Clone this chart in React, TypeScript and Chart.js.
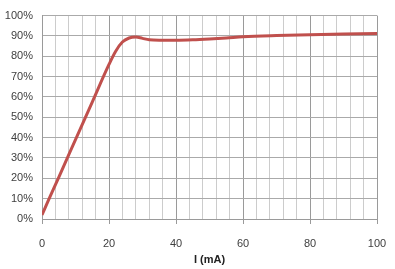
import React, { useEffect, useRef } from "react";
import { Chart, registerables } from "chart.js";

Chart.register(...registerables);

const currentMA = [0, 2, 5, 10, 15, 20, 22, 24, 26, 28, 30, 32, 35, 40, 45, 50, 55, 60, 70, 80, 90, 100];
const efficiency = [2, 9.5, 20.5, 39, 57.5, 76, 82.5, 87, 89, 89.5, 88.8, 88.1, 87.9, 87.9, 88.1, 88.5, 89, 89.6, 90.2, 90.6, 90.9, 91.2];
const xTitle = "I (mA)";

export default function App() {
  const ref = useRef<HTMLCanvasElement | null>(null);
  useEffect(() => {
    document.body.style.margin = "0";
    const ctx = ref.current!;
    const font = { family: "'Liberation Sans', Arial, sans-serif", size: 11 };
    const chart = new Chart(ctx, {
      type: "line",
      data: {
        datasets: [
          {
            data: currentMA.map((x, i) => ({ x, y: efficiency[i] })),
            borderColor: "#C0504D",
            borderWidth: 3,
            pointRadius: 0,
            cubicInterpolationMode: "monotone",
            fill: false,
          },
        ],
      },
      options: {
        animation: false,
        responsive: false,
        maintainAspectRatio: false,
        layout: { padding: { top: 12, right: 18, bottom: 0, left: 0 } },
        plugins: { legend: { display: false }, tooltip: { enabled: false } },
        scales: {
          x: {
            type: "linear",
            min: 0,
            max: 100,
            afterFit: (s: any) => {
              s.height = 50;
              s.paddingLeft = 0;
              s.paddingRight = 0;
            },
            ticks: {
              stepSize: 4,
              autoSkip: false,
              maxRotation: 0,
              padding: 13,
              color: "#404040",
              font,
              callback: (v: any) => (Number(v) % 20 === 0 ? String(v) : ""),
            },
            grid: {
              color: (c: any) => (c.tick && c.tick.value % 20 === 0 ? "#9a9a9a" : "#cccccc"),
              tickColor: (c: any) => (c.tick && c.tick.value % 20 === 0 ? "#9a9a9a" : "rgba(0,0,0,0)"),
              tickLength: 5,
            },
            border: { color: "#9a9a9a" },
            title: {
              display: true,
              text: xTitle,
              color: "#222",
              font: { ...font, weight: "bold" },
              padding: { top: 2, bottom: 2 },
            },
          },
          y: {
            min: 0,
            max: 100,
            afterFit: (s: any) => {
              s.width = 42;
            },
            ticks: {
              stepSize: 10,
              padding: 9,
              color: "#404040",
              font,
              callback: (v: any) => v + "%",
            },
            grid: { color: "#aaaaaa", drawTicks: false },
            border: { color: "#9a9a9a" },
          },
        },
      },
    } as any);
    return () => chart.destroy();
  }, []);
  return (
    <div style={{ position: "absolute", left: 0, top: 0, width: 395, height: 269, background: "#fff" }}>
      <canvas ref={ref} width={395} height={269} />
    </div>
  );
}
